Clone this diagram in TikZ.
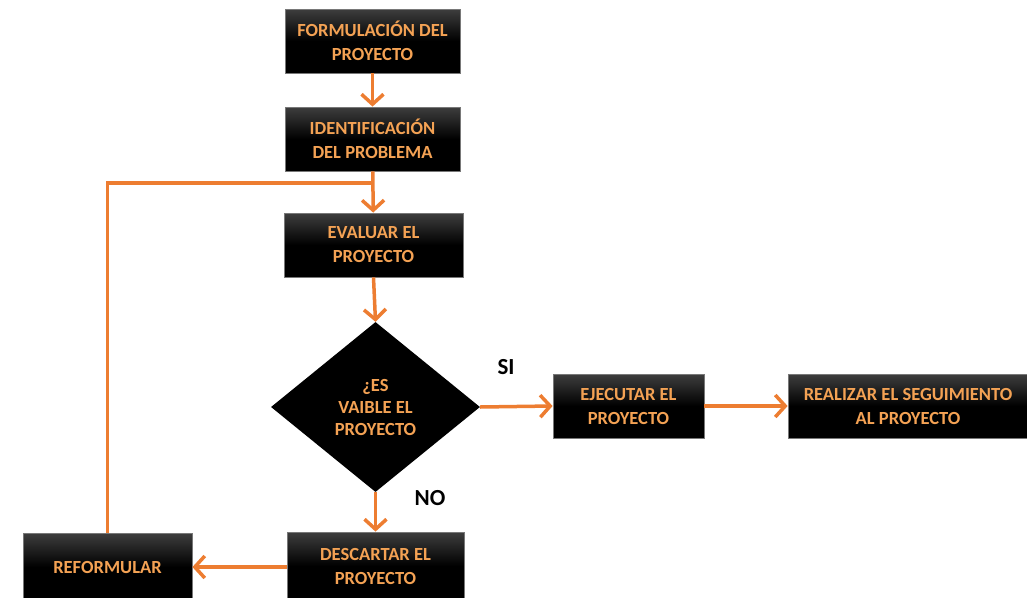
\documentclass[tikz,border=0pt]{standalone}
\usepackage{fontspec}
\setmainfont{Carlito}
\usetikzlibrary{shapes.geometric,arrows.meta}
\definecolor{flow}{RGB}{237,125,49}
\definecolor{boxtext}{RGB}{244,162,84}
\definecolor{boxedge}{RGB}{120,120,120}
\tikzset{
  stepbox/.style={draw=boxedge, line width=0.8pt, top color={rgb,255:red,62;green,62;blue,62},
    bottom color=black, middle color=black, inner sep=0pt, align=center,
    text=boxtext, font=\fontsize{18.5}{24}\selectfont\bfseries},
  decision/.style={diamond, fill=black, inner sep=0pt, aspect=1.23,
    minimum width=209pt, minimum height=170pt, align=center,
    text=boxtext, font=\fontsize{18.5}{22}\selectfont\bfseries},
  link/.style={draw=flow, line width=3.5pt},
  flowarrow/.style={link, -{Straight Barb[length=10pt,width=22pt,line width=3.5pt]}},
  answer/.style={font=\fontsize{23}{24}\selectfont\bfseries, text=black}
}
\begin{document}
\begin{tikzpicture}[x=1pt,y=-1pt]
\useasboundingbox (0,0) rectangle (1027,597);
\clip (0,0) rectangle (1027,597);
% process boxes
\node[stepbox, minimum width=175pt, minimum height=64pt] (form) at (372.5,41) {FORMULACIÓN DEL\\PROYECTO};
\node[stepbox, minimum width=175pt, minimum height=64pt] (ident) at (372.5,139) {IDENTIFICACIÓN\\DEL PROBLEMA};
\node[stepbox, minimum width=179pt, minimum height=64pt] (eval) at (373.5,245) {EVALUAR EL\\PROYECTO};
\node[decision] (viable) at (375.5,407) {¿ES\\VAIBLE EL\\PROYECTO};
\node[stepbox, minimum width=151pt, minimum height=64pt] (ejec) at (628.5,406) {EJECUTAR EL\\PROYECTO};
\node[stepbox, minimum width=240pt, minimum height=64pt] (seg) at (908,406) {REALIZAR EL SEGUIMIENTO\\AL PROYECTO};
\node[stepbox, minimum width=177pt, minimum height=68pt] (desc) at (375.5,566) {DESCARTAR EL\\PROYECTO};
\node[stepbox, minimum width=169pt, minimum height=68pt] (ref) at (107.5,567) {REFORMULAR};
% connectors
\coordinate (join) at (372.5,183);
\draw[flowarrow] (form) -- (ident);
\draw[flowarrow] (ident) -- (eval);
\draw[link] (ref.north) |- (join);
\draw[flowarrow] (eval.south) -- (viable.north);
\draw[flowarrow] (viable.east) -- (ejec.west);
\draw[flowarrow] (ejec) -- (seg);
\draw[flowarrow] (viable.south) -- (desc.north);
\draw[flowarrow] (desc.west |- ref.east) -- (ref.east);
% answers
\node[answer] (si) at (506,367) {SI};
\node[answer] (no) at (430,498) {NO};
\end{tikzpicture}
\end{document}
